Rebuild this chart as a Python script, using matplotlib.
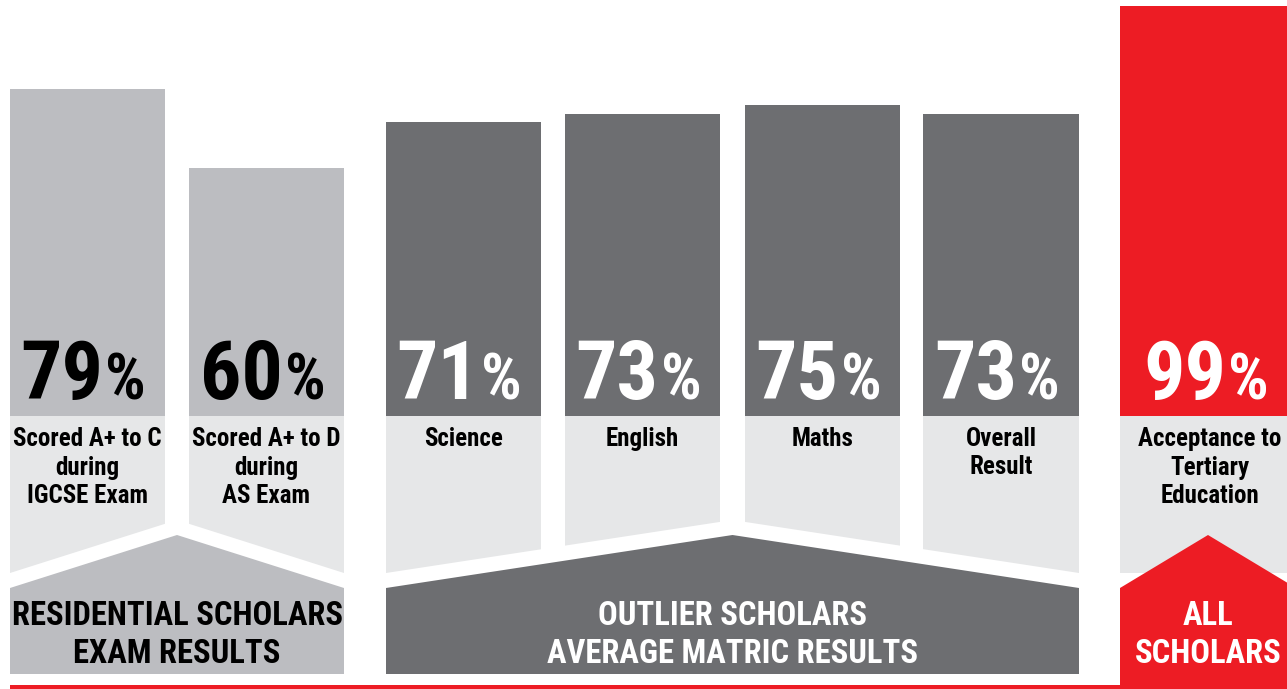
import matplotlib
matplotlib.use("Agg")
import matplotlib.pyplot as plt
from matplotlib.patches import Polygon, Rectangle

plt.rcParams['font.family'] = ['Roboto Condensed', 'DejaVu Sans']
plt.rcParams['font.weight'] = 'bold'

# data
values = [79, 60, 71, 73, 75, 73, 99]
labels = [
    ["Scored A+ to C", "during", "IGCSE Exam"],
    ["Scored A+ to D", "during", "AS Exam"],
    ["Science"],
    ["English"],
    ["Maths"],
    ["Overall", "Result"],
    ["Acceptance to", "Tertiary", "Education"],
]
group_titles = [
    ["RESIDENTIAL SCHOLARS", "EXAM RESULTS"],
    ["OUTLIER SCHOLARS", "AVERAGE MATRIC RESULTS"],
    ["ALL", "SCHOLARS"],
]

GREY_L = "#bcbdc1"
GREY_D = "#6d6e71"
RED = "#ed1c24"
PANEL = "#e6e7e8"

bar_colors = [GREY_L, GREY_L, GREY_D, GREY_D, GREY_D, GREY_D, RED]
pct_colors = ["black", "black", "white", "white", "white", "white", "white"]
lefts = [10, 189, 386, 565, 745, 923, 1120]
widths = [155, 155, 155, 155, 155, 156, 176]
bar_group = [0, 0, 1, 1, 1, 1, 2]

# group roofs: left, apex x, right
groups = [(10, 177, 344), (386, 732.5, 1079), (1120, 1208, 1296)]
group_fill = [GREY_L, GREY_D, RED]
group_text = ["black", "white", "white"]
EAVE, APEX, GAP = 588, 535, 15
BASE = 416

W, H = 1287, 689
fig = plt.figure(figsize=(W / 100, H / 100), dpi=100)

# bars (value axis above the label panels)
bax = fig.add_axes([0, (H - BASE) / H, 1, BASE / H])
bax.set_xlim(0, W)
bax.set_ylim(0, 100.45)
bax.axis("off")
centers = [l + w / 2 for l, w in zip(lefts, widths)]
bax.bar(centers, values, width=widths, color=bar_colors, linewidth=0)

# overlay in pixel coords for panels and text
ax = fig.add_axes([0, 0, 1, 1])
ax.set_xlim(0, W)
ax.set_ylim(H, 0)
ax.axis("off")
ax.set_zorder(3)


def roof(g, x):
    l, a, r = groups[g]
    half = a - l
    return EAVE - (EAVE - APEX) * (1 - abs(x - a) / half)


# light label panels with slanted bottoms
for i in range(len(values)):
    g = bar_group[i]
    x0, x1 = lefts[i], lefts[i] + widths[i]
    pts = [(x0, BASE), (x1, BASE), (x1, roof(g, x1) - GAP), (x0, roof(g, x0) - GAP)]
    ax.add_patch(Polygon(pts, closed=True, facecolor=PANEL, edgecolor="none"))
    cx = centers[i] if i < 6 else 1210
    for k, line in enumerate(labels[i]):
        ax.text(cx, 446 + k * 28.5, line, ha="center", va="baseline",
                fontsize=18, color="black")
    # percentage
    ax.text(cx + 16, 399, str(values[i]), ha="right", va="baseline",
            fontsize=59, color=pct_colors[i])
    ax.text(cx + 18, 399, "%", ha="left", va="baseline",
            fontsize=46, color=pct_colors[i])

# group footers
for g, (l, a, r) in enumerate(groups):
    bottom = 689 if g == 2 else 674
    pts = [(l, bottom), (l, EAVE), (a, APEX), (r, EAVE), (r, bottom)]
    ax.add_patch(Polygon(pts, closed=True, facecolor=group_fill[g], edgecolor="none"))
    cx = a if g < 2 else 1208
    for k, line in enumerate(group_titles[g]):
        ax.text(cx, 625 + k * 38, line, ha="center", va="baseline",
                fontsize=23.5, color=group_text[g])

# red base line
ax.add_patch(Rectangle((10, 685), W - 10, 4, facecolor=RED, edgecolor="none"))

fig.savefig("out.png", dpi=100)
